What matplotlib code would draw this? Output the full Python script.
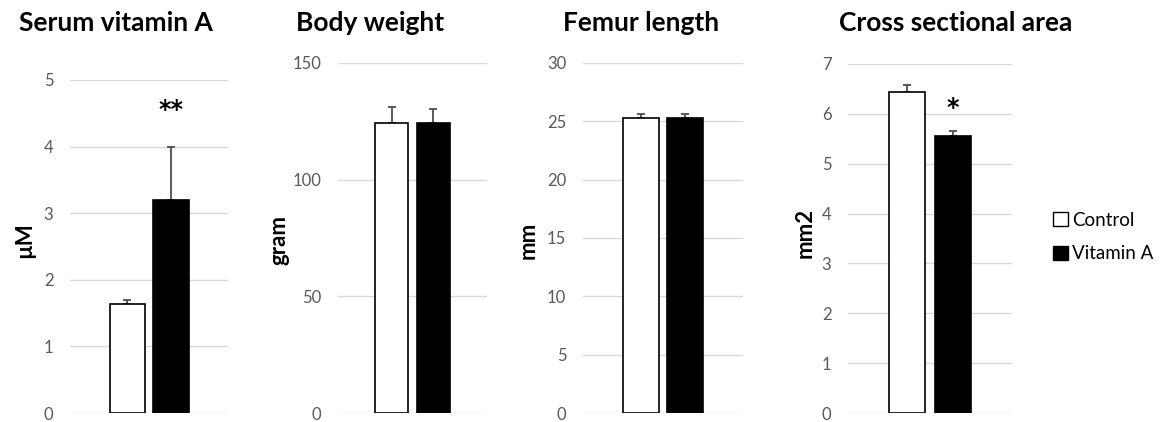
import matplotlib
matplotlib.use("Agg")
import matplotlib.pyplot as plt
from matplotlib.patches import Patch

plt.rcParams['font.family'] = ['Lato', 'DejaVu Sans']

# group means and SEM (upper bars only), control first then vitamin A
groups = ["Control", "Vitamin A"]
titles = ["Serum vitamin A", "Body weight", "Femur length", "Cross sectional area"]
units = ["\u00b5M", "gram", "mm", "mm2"]
means = [[1.64, 3.20], [124.4, 124.4], [25.3, 25.3], [6.43, 5.55]]
errors = [[0.06, 0.79], [6.8, 5.8], [0.3, 0.3], [0.14, 0.10]]
y_max = [5, 150, 30, 7]
y_step = [1, 50, 5, 1]
stars = ["**", "", "", "*"]
star_y = [4.55, None, None, 6.12]

W, H = 1164, 422
# panel boxes in pixels: left, right, y of zero line, y of top line
boxes = [(70, 228, 413, 80), (338, 487, 413, 63), (583, 743, 413, 63), (848, 1012, 413, 64)]
title_x = [116, 370, 641, 956]
ylabel_x = [25, 279, 528, 805]
ylabel_y = [240, 240, 240, 233]

fig = plt.figure(figsize=(W / 100, H / 100), dpi=100)
tick_grey = "#595959"
grid_grey = "#d9d9d9"

for i in range(4):
    l, r, y0, y1 = boxes[i]
    ax = fig.add_axes([l / W, 1 - y0 / H, (r - l) / W, (y0 - y1) / H])
    ax.bar([0, 1], means[i], width=0.8, color=["white", "black"],
           edgecolor="black", linewidth=1.2, zorder=3)
    ax.errorbar([0, 1], means[i], yerr=[[0, 0], errors[i]], fmt="none",
                ecolor="#4d4d4d", elinewidth=1.3, capsize=3, capthick=1.3, zorder=2)
    ax.set_xlim(-1.3, 2.3)
    ax.set_ylim(0, y_max[i])
    ax.set_yticks(range(0, y_max[i] + 1, y_step[i]))
    ax.set_xticks([])
    ax.grid(axis="y", color=grid_grey, linewidth=1, zorder=0)
    for s in ax.spines.values():
        s.set_visible(False)
    ax.tick_params(axis="y", length=0, pad=12, labelsize=12, labelcolor=tick_grey)
    if stars[i]:
        ax.text(1, star_y[i], stars[i], ha="center", va="center",
                fontsize=17, fontweight="bold", family="DejaVu Sans")
    fig.text(title_x[i] / W, 1 - 23 / H, titles[i], ha="center", va="center",
             fontsize=19, fontweight="bold")
    fig.text(ylabel_x[i] / W, 1 - ylabel_y[i] / H, units[i], ha="center", va="center",
             rotation=90, fontsize=16, fontweight="bold")

handles = [Patch(facecolor="white", edgecolor="black", linewidth=1),
           Patch(facecolor="black", edgecolor="black", linewidth=1)]
fig.legend(handles, groups, loc="center left", bbox_to_anchor=(1044 / W, 1 - 237 / H),
           frameon=False, handlelength=0.8, handleheight=0.8, handletextpad=0.2,
           labelspacing=0.9, fontsize=13.5, borderpad=0)

fig.savefig("out.png", dpi=100)
